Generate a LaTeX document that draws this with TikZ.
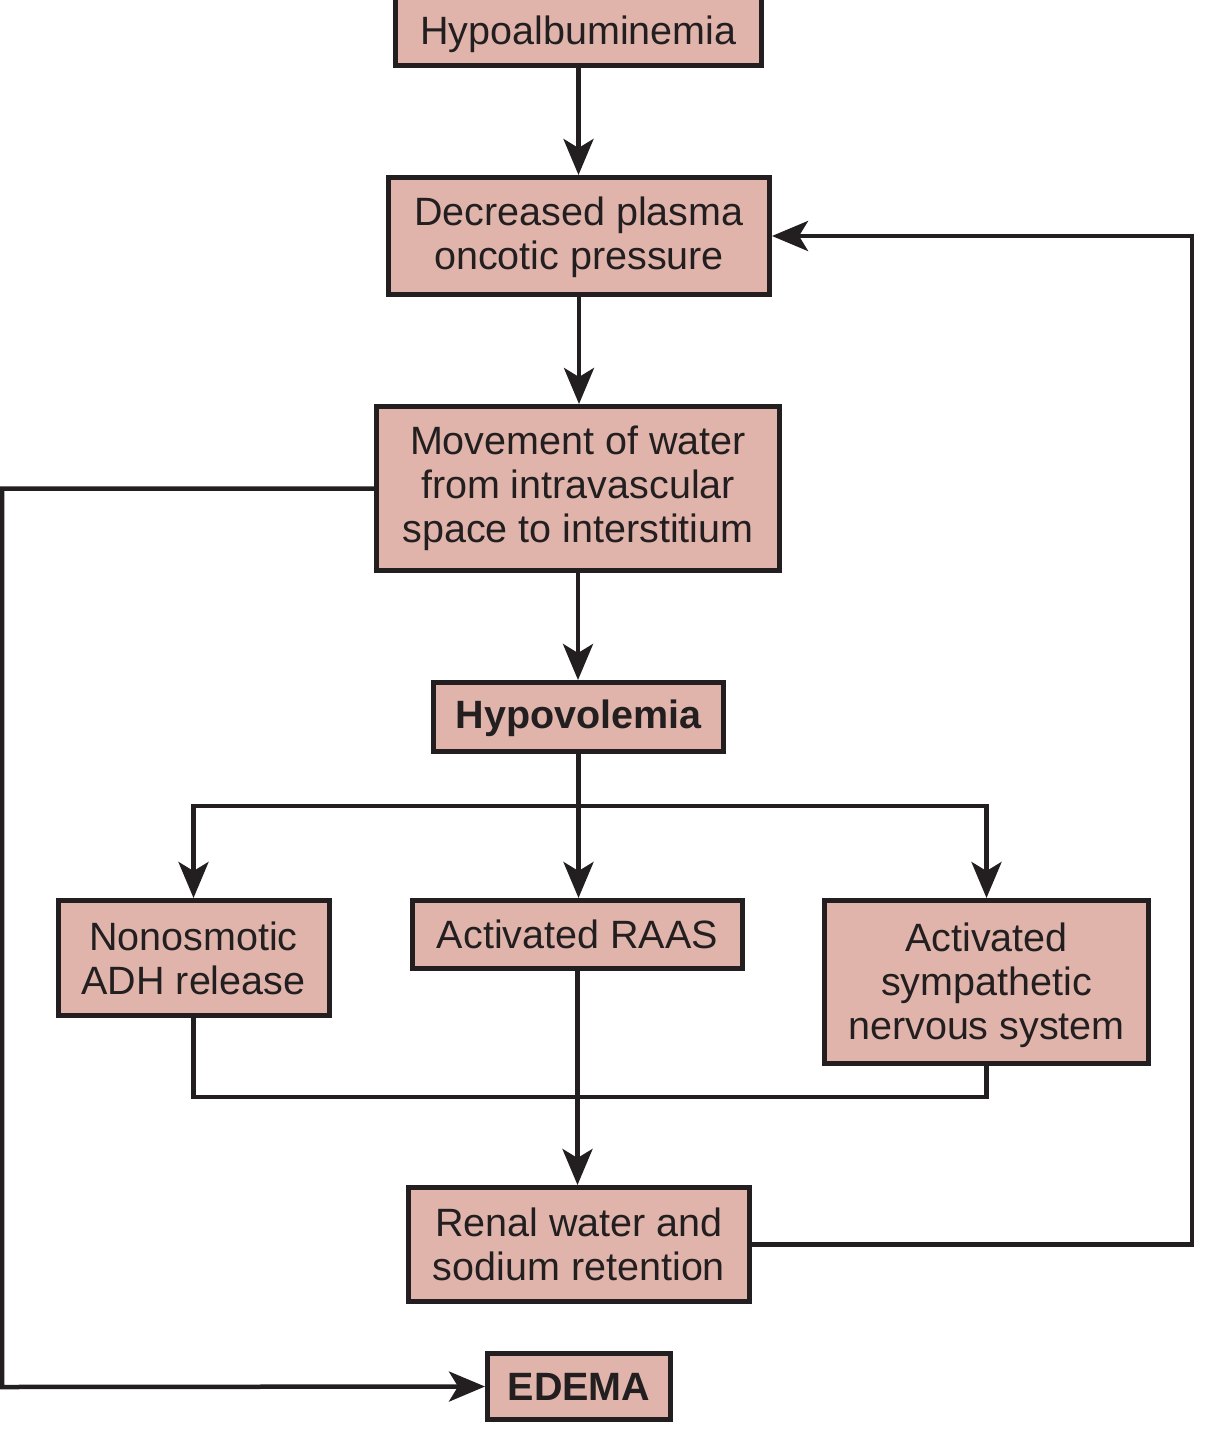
\documentclass[tikz,border=0pt]{standalone}
\usepackage{fontspec}
\setmainfont{Liberation Sans}
\usetikzlibrary{arrows.meta}
\definecolor{boxfill}{HTML}{E0B4AB}
\definecolor{ink}{HTML}{231F20}
\begin{document}
\begin{tikzpicture}[x=1pt,y=-1pt,
  tshift/.style={execute at begin node={\rule{0pt}{#1}}},
  box/.style={draw=ink, fill=boxfill, line width=5pt, inner sep=0pt, align=center,
    text=ink, font=\fontsize{39.5}{44}\selectfont},
  conn/.style={draw=ink, line width=4.5pt, line join=miter},
  arr/.style={conn, -{Stealth[length=36pt,width=30pt,inset=9pt]}}]
\useasboundingbox (0,0) rectangle (1206,1434);
\clip (0,0) rectangle (1206,1434);

\node[box, tshift=41pt, minimum width=366pt, minimum height=76pt] (hypo) at (578.5,28) {Hypoalbuminemia};
\node[box, text height=75.8pt, minimum width=381pt, minimum height=117pt] (dec) at (579,236) {Decreased plasma\\oncotic pressure};
\node[box, minimum width=403pt, minimum height=164pt] (move) at (578,488.5) {Movement of water\\from intravascular\\space to interstitium};
\node[box, tshift=32pt, minimum width=290pt, minimum height=69pt] (hypov) at (578.5,717) {\bfseries Hypovolemia};
\node[box, minimum width=271pt, minimum height=115pt] (adh) at (193.5,958) {Nonosmotic\\ADH release};
\node[box, minimum width=330pt, minimum height=68pt] (raas) at (577.5,934.5) {Activated RAAS};
\node[box, text height=122.8pt, minimum width=324pt, minimum height=163pt] (symp) at (986.5,982) {Activated\\sympathetic\\nervous system};
\node[box, minimum width=341pt, minimum height=114pt] (renal) at (579,1244.5) {Renal water and\\sodium retention};
\node[box, minimum width=183pt, minimum height=66pt] (edema) at (579,1386.5) {\bfseries EDEMA};

\coordinate (br) at (578.5,806);
\coordinate (jn) at (578.5,1097);
\coordinate (rtop) at (1192,236);
\coordinate (lbot) at (2.2,1387);

\draw[arr] (hypo.south) -- (hypo.south |- dec.north);
\draw[arr] (dec.south) -- (dec.south |- move.north);
\draw[arr] (move.south) -- (move.south |- hypov.north);
\draw[conn] (hypov.south) -- (br);
\draw[arr] (br) -- (br |- raas.north);
\draw[arr] (br) -| (adh.north);
\draw[arr] (br) -| (symp.north);
\draw[conn] (adh.south) |- (jn) -| (symp.south);
\draw[arr] (raas.south) -- (raas.south |- renal.north);
\draw[arr] (renal.east) -| (rtop) -- (dec.east);
\draw[arr] (move.west) -| (lbot) -- (edema.west);
\end{tikzpicture}
\end{document}
